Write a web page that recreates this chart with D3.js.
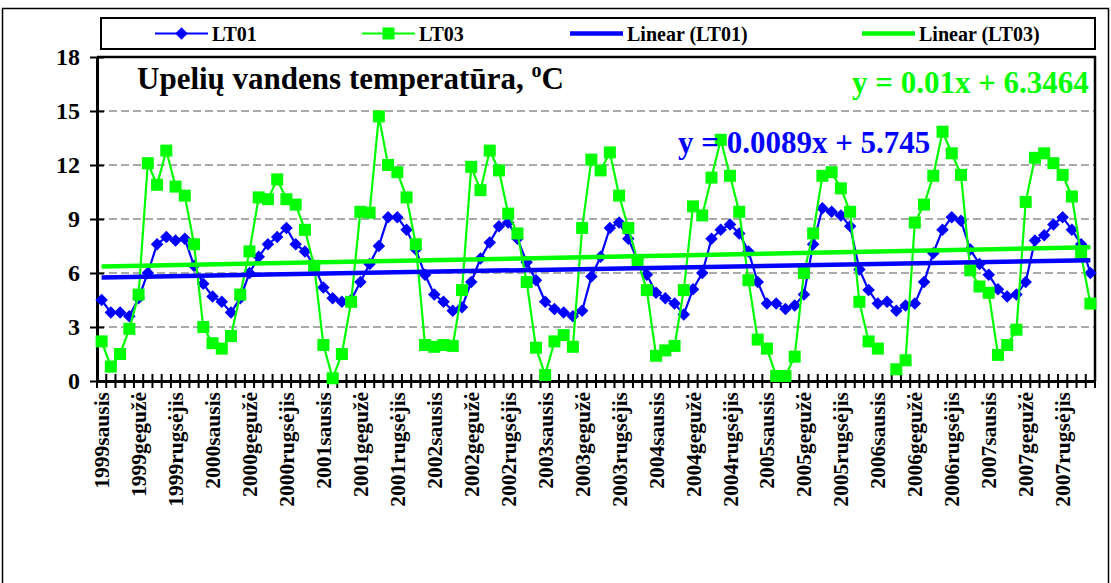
<!DOCTYPE html>
<html>
<head>
<meta charset="utf-8">
<script src="https://cdn.jsdelivr.net/npm/d3@7/dist/d3.min.js"></script>
<style>
  html, body { margin: 0; padding: 0; background: #fff; }
  svg { display: block; font-family: "Liberation Serif", "Times New Roman", serif; font-weight: bold; }
  svg text { font-family: "Liberation Serif", "Times New Roman", serif; font-weight: bold; }
</style>
</head>
<body>
<svg id="chart" width="1111" height="583"></svg>
<script>
// Monthly stream water temperature, 1999–2007
const years = [1999, 2000, 2001, 2002, 2003, 2004, 2005, 2006, 2007];
const months = ["sausis", "vasaris", "kovas", "balandis", "gegužė", "birželis",
                "liepa", "rugpjūtis", "rugsėjis", "spalis", "lapkritis", "gruodis"];
const categories = years.flatMap(y => months.map(m => `${y}${m}`));

const lt01 = [
  4.5, 3.8, 3.8, 3.6, 4.6, 6.0, 7.6, 8.0, 7.8, 7.9, 6.4, 5.4,
  4.7, 4.4, 3.8, 4.6, 6.0, 6.9, 7.6, 8.0, 8.5, 7.6, 7.2, 6.4,
  5.2, 4.6, 4.4, 4.5, 5.5, 6.5, 7.5, 9.1, 9.1, 8.4, 7.3, 5.9,
  4.8, 4.4, 3.9, 4.1, 5.5, 6.8, 7.7, 8.6, 8.8, 7.9, 6.6, 5.6,
  4.4, 4.0, 3.8, 3.6, 3.9, 5.8, 6.9, 8.5, 8.8, 7.9, 6.7, 5.9,
  4.9, 4.6, 4.3, 3.7, 5.1, 6.0, 7.9, 8.4, 8.7, 8.2, 7.2, 5.5,
  4.3, 4.3, 4.0, 4.2, 4.8, 7.6, 9.6, 9.4, 9.2, 8.6, 6.2, 5.05,
  4.3, 4.4, 3.9, 4.2, 4.3, 5.5, 7.1, 8.4, 9.1, 8.9, 7.3, 6.5,
  5.9, 5.1, 4.7, 4.8, 5.5, 7.8, 8.1, 8.7, 9.1, 8.4, 7.6, 6.0
];
// null = no measurement that month
const lt03 = [
  2.2, 0.8, 1.5, 2.9, 4.8, 12.1, 10.9, 12.8, 10.8, 10.3, 7.6, 3.0,
  2.1, 1.8, 2.5, 4.8, 7.2, 10.2, 10.1, 11.2, 10.1, 9.8, 8.4, 6.4,
  2.0, 0.15, 1.5, 4.4, 9.4, 9.35, 14.7, 12.0, 11.6, 10.2, 7.6, 2.0,
  1.9, 2.0, 1.95, 5.05, 11.9, 10.6, 12.8, 11.7, 9.3, 8.2, 5.5, 1.85,
  0.33, 2.2, 2.55, 1.9, 8.5, 12.3, 11.7, 12.7, 10.3, 8.5, 6.7, 5.05,
  1.4, 1.7, 1.95, 5.05, 9.7, 9.2, 11.3, 13.4, 11.4, 9.4, 5.6, 2.3,
  1.8, 0.28, 0.28, 1.35, 6.0, 8.2, 11.4, 11.6, 10.7, 9.4, 4.4, 2.2,
  1.8, null, 0.65, 1.15, 8.8, 9.8, 11.4, 13.85, 12.65, 11.45, 6.15, 5.25,
  4.9, 1.45, 2.0, 2.85, 9.95, 12.4, 12.65, 12.1, 11.45, 10.25, 7.0, 4.3
];

// Linear trend coefficients (x = month number, starting at 1)
const trendLT01 = [0.0089, 5.745];
const trendLT03 = [0.01, 6.3464];

const yTicks = [0, 3, 6, 9, 12, 15, 18];
const gridTicks = [3, 6, 9, 12, 15];

const BLUE = "#0000ff", GREEN = "#00ff00";
const FONT = "'Liberation Serif', 'Times New Roman', serif";

const svg = d3.select("#chart");

// outer chart frame
svg.append("rect").attr("x", 2.5).attr("y", 8.5).attr("width", 1106).attr("height", 600)
  .attr("fill", "none").attr("stroke", "#000").attr("stroke-width", 1.5);

const plot = { left: 97, right: 1095, top: 57, bottom: 381 };

const x = d3.scaleBand().domain(categories).range([plot.left, plot.right]).padding(0);
const cx = c => x(c) + x.bandwidth() / 2;
const y = d3.scaleLinear().domain([0, 18]).range([plot.bottom, plot.top]);

// dashed gridlines
svg.append("g").selectAll("line").data(gridTicks).join("line")
  .attr("x1", plot.left).attr("x2", plot.right)
  .attr("y1", d => y(d)).attr("y2", d => y(d))
  .attr("stroke", "#555").attr("stroke-width", 1).attr("stroke-dasharray", "8,4");

// plot frame (top and right)
svg.append("path")
  .attr("d", `M${plot.left},${plot.top}H${plot.right}V${plot.bottom}`)
  .attr("fill", "none").attr("stroke", "#000").attr("stroke-width", 2.5);

// y axis
const yAxis = svg.append("g").attr("transform", `translate(${plot.left},0)`)
  .call(d3.axisLeft(y).tickValues(yTicks).tickSize(0).tickPadding(17).tickFormat(d3.format("d")));
yAxis.attr("font-family", FONT);
yAxis.select(".domain").attr("stroke", "#000").attr("stroke-width", 3);
yAxis.selectAll(".tick line").attr("x1", -7).attr("x2", 7).attr("stroke", "#000").attr("stroke-width", 2);
yAxis.selectAll("text").attr("font-size", 24).attr("font-weight", "bold")
  .attr("font-family", FONT).attr("fill", "#000");

// x axis: category boundary ticks
const bounds = categories.map(c => x(c)).concat([x.range()[1]]);
svg.append("g").selectAll("line").data(bounds).join("line")
  .attr("x1", d => d).attr("x2", d => d)
  .attr("y1", plot.bottom - 7).attr("y2", plot.bottom + 7)
  .attr("stroke", "#000").attr("stroke-width", 2);

const xAxis = svg.append("g").attr("transform", `translate(0,${plot.bottom})`)
  .call(d3.axisBottom(x).tickValues(categories.filter((d, i) => i % 4 === 0)).tickSize(0));
xAxis.attr("font-family", FONT);
xAxis.select(".domain").attr("stroke", "#000").attr("stroke-width", 3);
xAxis.selectAll("text")
  .attr("font-size", 21.5).attr("font-weight", "bold")
  .attr("font-family", FONT).attr("fill", "#000")
  .attr("text-anchor", "end")
  .attr("transform", "rotate(-90)")
  .attr("x", -11).attr("y", 0).attr("dy", "0.35em");

// series
const line = d3.line().x(d => cx(d.c)).y(d => y(d.v)).defined(d => d.v != null);
const s1 = categories.map((c, i) => ({ c, v: lt01[i] }));
const s3 = categories.map((c, i) => ({ c, v: lt03[i] }));

svg.append("path").datum(s1).attr("d", line)
  .attr("fill", "none").attr("stroke", BLUE).attr("stroke-width", 2.2);
svg.append("g").selectAll("path").data(s1.filter(d => d.v != null)).join("path")
  .attr("d", d3.symbol(d3.symbolDiamond2, 100))
  .attr("transform", d => `translate(${cx(d.c)},${y(d.v)})`)
  .attr("fill", BLUE);

svg.append("path").datum(s3).attr("d", line)
  .attr("fill", "none").attr("stroke", GREEN).attr("stroke-width", 2.2);
svg.append("g").selectAll("rect").data(s3.filter(d => d.v != null)).join("rect")
  .attr("x", d => cx(d.c) - 6).attr("y", d => y(d.v) - 6)
  .attr("width", 12).attr("height", 12)
  .attr("fill", GREEN);

// trend lines
function trendPts(coef) {
  const n = categories.length;
  return [
    { c: categories[0], v: coef[0] * 1 + coef[1] },
    { c: categories[n - 1], v: coef[0] * n + coef[1] }
  ];
}
svg.append("path").datum(trendPts(trendLT01)).attr("d", line)
  .attr("fill", "none").attr("stroke", BLUE).attr("stroke-width", 4.5);
svg.append("path").datum(trendPts(trendLT03)).attr("d", line)
  .attr("fill", "none").attr("stroke", GREEN).attr("stroke-width", 4.5);

// title
const title = svg.append("text").attr("x", 137).attr("y", 89)
  .attr("font-size", 31).attr("font-family", FONT).attr("fill", "#000");
title.append("tspan").text("Upelių vandens temperatūra, ");
title.append("tspan").attr("font-size", 20).attr("dy", -12).text("o");
title.append("tspan").attr("dy", 12).text("C");

// trend equations
svg.append("text").attr("x", 852).attr("y", 93).attr("font-size", 31).attr("font-family", FONT)
  .attr("fill", GREEN).text(`y = ${trendLT03[0]}x + ${trendLT03[1]}`);
svg.append("text").attr("x", 678).attr("y", 153).attr("font-size", 31).attr("font-family", FONT)
  .attr("fill", BLUE).text(`y = ${trendLT01[0]}x + ${trendLT01[1]}`);

// legend
const legendItems = [
  { name: "LT01", color: BLUE, x: 155, marker: "diamond", w: 2.2 },
  { name: "LT03", color: GREEN, x: 362, marker: "square", w: 2.2 },
  { name: "Linear (LT01)", color: BLUE, x: 570, marker: null, w: 4.5 },
  { name: "Linear (LT03)", color: GREEN, x: 862, marker: null, w: 4.5 }
];
svg.append("rect").attr("x", 101).attr("y", 18).attr("width", 994).attr("height", 31)
  .attr("fill", "#fff").attr("stroke", "#000").attr("stroke-width", 2);
const lg = svg.append("g").selectAll("g").data(legendItems).join("g")
  .attr("transform", d => `translate(${d.x},33.5)`);
lg.append("line").attr("x1", 0).attr("x2", 53)
  .attr("stroke", d => d.color).attr("stroke-width", d => d.w);
lg.filter(d => d.marker === "diamond").append("path")
  .attr("d", d3.symbol(d3.symbolDiamond2, 100)).attr("transform", "translate(26.5,0)")
  .attr("fill", d => d.color);
lg.filter(d => d.marker === "square").append("rect")
  .attr("x", 20.5).attr("y", -6).attr("width", 12).attr("height", 12)
  .attr("fill", d => d.color);
lg.append("text").attr("x", 57).attr("y", 7).attr("font-size", 20).attr("font-family", FONT)
  .attr("fill", "#000").text(d => d.name);
</script>
</body>
</html>
